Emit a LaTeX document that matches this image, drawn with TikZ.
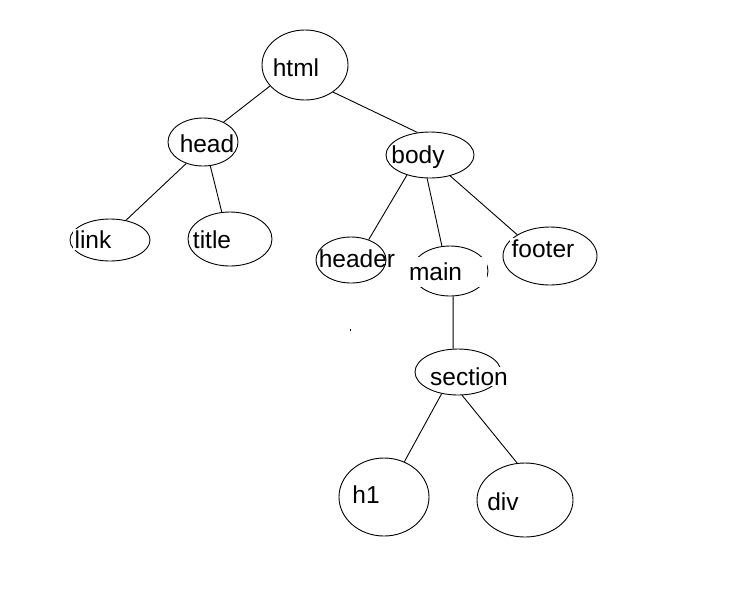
\documentclass[tikz,border=0pt]{standalone}
\usepackage{fontspec}
\setmainfont{Liberation Sans}
\usetikzlibrary{shapes.geometric}
\begin{document}
\begin{tikzpicture}[x=1pt,y=-1pt,
  oval/.style={ellipse, draw, line width=0.9pt, inner sep=0pt},
  lbl/.style={anchor=base, inner sep=0pt, font=\fontsize{24.5}{28}\selectfont},
  masked/.style={lbl, fill=white, inner sep=1.5pt},
  edge/.style={line width=0.9pt}]
\useasboundingbox (0,0) rectangle (746,590);

% tree nodes (outlines)
\node[oval, minimum width=86pt, minimum height=70pt] (html)    at (305,65)  {};
\node[oval, minimum width=70pt, minimum height=48pt] (head)    at (203,142) {};
\node[oval, minimum width=88pt, minimum height=46pt] (body)    at (430,155) {};
\node[oval, minimum width=80pt, minimum height=42pt] (link)    at (110,240) {};
\node[oval, minimum width=84pt, minimum height=54pt] (title)   at (230,239) {};
\node[oval, minimum width=70pt, minimum height=46pt] (header)  at (351,260) {};
\node[oval, minimum width=76pt, minimum height=50pt] (main)    at (450,271) {};
\node[oval, minimum width=94pt, minimum height=58pt] (footer)  at (550,256) {};
\node[oval, minimum width=86pt, minimum height=46pt] (section) at (458,372) {};
\node[oval, minimum width=90pt, minimum height=78pt] (h1)      at (384,497) {};
\node[oval, minimum width=96pt, minimum height=74pt] (div)     at (525,500) {};

% labels
\node[lbl]    (html-t)    at (296,76)  {html};
\node[lbl]    (head-t)    at (207,152) {head};
\node[lbl]    (body-t)    at (418,163) {body};
\node[masked] (link-t)    at (93,248)  {link};
\node[lbl]    (title-t)   at (212,248) {title};
\node[lbl]    (header-t)  at (357,267) {header};
\node[lbl, fill=white, text width=74pt, inner xsep=4pt, inner ysep=0pt,
      minimum height=30pt, align=left, anchor=center] (main-t) at (446,272) {main};
\node[masked] (footer-t)  at (543,257) {footer};
\node[masked, inner sep=0.5pt] (section-t) at (469,385) {section};
\node[lbl]    (h1-t)      at (366,503) {h1};
\node[lbl]    (div-t)     at (503,510) {div};

% connectors
\draw[edge] (html.211)    -- (head.44);
\draw[edge] (html.316)    -- (body.119);
\draw[edge] (head.232)    -- (link.51);
\draw[edge] (head.287)    -- (title.107);
\draw[edge] (body.221)    -- (header.49);
\draw[edge] (body.263)    -- (main.108);
\draw[edge] (body.314)    -- (footer.147);
\draw[edge] (main.277)    -- (section.102);
\draw[edge] (section.233) -- (h1.60);
\draw[edge] (section.280) -- (div.102);

% small speck
\fill (349.5,329) rectangle +(1.5,2);
\end{tikzpicture}
\end{document}
